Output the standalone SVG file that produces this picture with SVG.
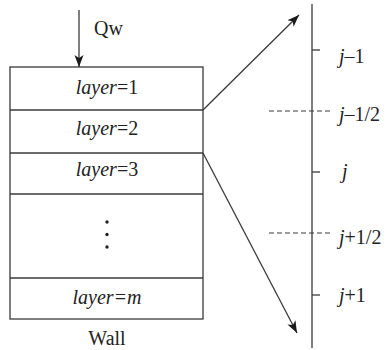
<svg xmlns="http://www.w3.org/2000/svg" width="387" height="350" viewBox="0 0 387 350">
<defs>
<marker id="ah" viewBox="0 0 12 10" refX="12" refY="5" markerWidth="12" markerHeight="10" orient="auto" markerUnits="userSpaceOnUse">
<path d="M0,0.5 L12,5 L0,9.5 L3,5 Z" fill="#1a1a1a"/>
</marker>
</defs>
<rect width="387" height="350" fill="#fff"/>
<g id="wall" stroke="#3a3a3a" stroke-width="1.3" fill="none">
<rect x="10" y="67" width="193" height="252"/>
<line x1="10" y1="110" x2="203" y2="110"/>
<line x1="10" y1="153" x2="203" y2="153"/>
<line x1="10" y1="194" x2="203" y2="194"/>
<line x1="10" y1="278" x2="203" y2="278"/>
</g>
<g id="wall-labels">
<text x="107" y="94" text-anchor="middle" fill="#222" style="font-family:'Liberation Serif',serif;font-size:20px"><tspan font-style="italic">layer</tspan>=1</text>
<text x="107" y="135" text-anchor="middle" fill="#222" style="font-family:'Liberation Serif',serif;font-size:20px"><tspan font-style="italic">layer</tspan>=2</text>
<text x="107" y="176" text-anchor="middle" fill="#222" style="font-family:'Liberation Serif',serif;font-size:20px"><tspan font-style="italic">layer</tspan>=3</text>
<circle cx="107" cy="222" r="1.7" fill="#222"/>
<circle cx="107" cy="234.5" r="1.7" fill="#222"/>
<circle cx="107" cy="247" r="1.7" fill="#222"/>
<text x="107" y="304" text-anchor="middle" fill="#222" style="font-family:'Liberation Serif',serif;font-size:20px;font-style:italic">layer=m</text>
<text x="107" y="345" text-anchor="middle" fill="#222" style="font-family:'Liberation Serif',serif;font-size:20px">Wall</text>
</g>
<g id="qw">
<text x="94" y="35" fill="#222" style="font-family:'Liberation Serif',serif;font-size:20px">Qw</text>
</g>
<g id="grid">
<g stroke="#3a3a3a" stroke-width="1.3" fill="none">
<line x1="312" y1="4" x2="312" y2="348"/>
<line x1="312" y1="50" x2="320" y2="50"/>
<line x1="312" y1="172" x2="320" y2="172"/>
<line x1="312" y1="295" x2="320" y2="295"/>
</g>
<g stroke="#3a3a3a" stroke-width="1.1" stroke-dasharray="5,3" fill="none">
<line x1="269" y1="111" x2="331" y2="111"/>
<line x1="269" y1="233" x2="331" y2="233"/>
</g>
<text x="339" y="63" fill="#222" style="font-family:'Liberation Serif',serif;font-size:20px"><tspan font-style="italic">j</tspan>–1</text>
<text x="339" y="121" fill="#222" style="font-family:'Liberation Serif',serif;font-size:20px"><tspan font-style="italic">j</tspan>–1/2</text>
<text x="342" y="178" fill="#222" style="font-family:'Liberation Serif',serif;font-size:20px;font-style:italic">j</text>
<text x="339" y="244" fill="#222" style="font-family:'Liberation Serif',serif;font-size:20px"><tspan font-style="italic">j</tspan>+1/2</text>
<text x="339" y="302" fill="#222" style="font-family:'Liberation Serif',serif;font-size:20px"><tspan font-style="italic">j</tspan>+1</text>
</g>
<g id="connectors" stroke="#3a3a3a" stroke-width="1.3" fill="none">
<line x1="79" y1="10" x2="79" y2="67" marker-end="url(#ah)"/>
<line x1="203" y1="110" x2="299" y2="15" marker-end="url(#ah)"/>
<line x1="203" y1="153" x2="297" y2="333" marker-end="url(#ah)"/>
</g>
</svg>
